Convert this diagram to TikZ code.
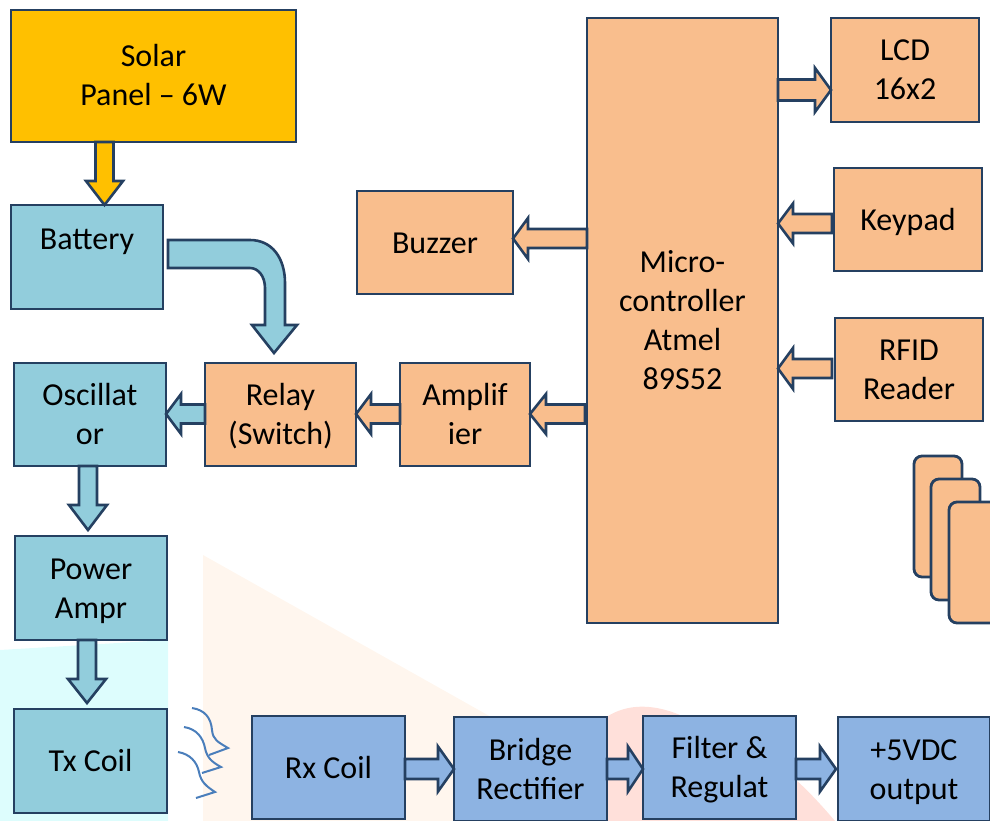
\documentclass[tikz,border=0pt]{standalone}
\usepackage{fontspec}
\setmainfont{Carlito}
\usetikzlibrary{calc}
\definecolor{orng}{HTML}{F9BE8D}
\definecolor{teal2}{HTML}{92CDDC}
\definecolor{blu}{HTML}{8DB3E2}
\definecolor{gold}{HTML}{FFC000}
\definecolor{edge}{HTML}{254061}
\definecolor{wave}{HTML}{4A7EBB}
\definecolor{wmcyan}{HTML}{DDFDFD}
\definecolor{wmorange}{HTML}{FFF6EE}
\definecolor{wmpink}{HTML}{FFE0DA}
\newcommand\st{\rule[-9pt]{0pt}{39pt}}
\tikzset{
  box/.style={draw=edge,line width=2.8pt,fill=#1,inner sep=0pt,outer sep=0pt,align=center,
    font=\fontsize{32}{39}\selectfont,text=black},
  card/.style={draw=edge,line width=2.8pt,fill=orng,rounded corners=8pt},
  blockarrow/.style={draw=edge,line width=2.6pt,fill=#1,line join=miter},
  wavy/.style={draw=wave,line width=2pt,line join=miter}
}
% from, to, half shaft, half head, head length, fill
\newcommand\blockarrow[6]{%
  \coordinate (ba) at (#1);\coordinate (bb) at (#2);
  \coordinate (bn) at ($(bb)!#5pt!(ba)$);
  \draw[blockarrow=#6]
    ($(ba)!#3pt!90:(bb)$) -- ($(bn)!#3pt!-90:(ba)$) -- ($(bn)!#4pt!-90:(ba)$) -- (bb)
    -- ($(bn)!#4pt!90:(ba)$) -- ($(bn)!#3pt!90:(ba)$) -- ($(ba)!#3pt!-90:(bb)$) -- cycle;}
\begin{document}
\begin{tikzpicture}[x=1pt,y=-1pt]
\useasboundingbox (0,0) rectangle (990,821);
\clip (0,0) rectangle (990,821);
% faint watermark behind the diagram
\fill[wmcyan] (0,650) -- (168,640) -- (168,821) -- (0,821) -- cycle;
\fill[wmorange] (203,555) -- (500,722) -- (640,821) -- (203,821) -- cycle;
\fill[wmpink] (560,821) .. controls (570,720) and (620,690) .. (680,715) .. controls (760,740) and (800,780) .. (835,821) -- cycle;
% boxes
\node[box=gold,minimum width=285pt,minimum height=132pt] (solar) at (153.5,76) {\st Solar\\\st Panel – 6W};
\node[box=teal2,minimum width=152pt,minimum height=104pt] (bat) at (87,257) {\st Battery\\[-3pt]\st~};
\node[box=teal2,minimum width=152pt,minimum height=103pt] (osc) at (90,414.5) {\st Oscillat\\\st or};
\node[box=orng,minimum width=151pt,minimum height=103pt] (relay) at (280.5,414.5) {\st Relay\\\st (Switch)};
\node[box=orng,minimum width=130pt,minimum height=103pt] (amp) at (465,414.5) {\st Amplif\\\st ier};
\node[box=orng,minimum width=191pt,minimum height=605pt] (micro) at (682.5,320.5) {\st Micro-\\\st controller\\\st Atmel\\\st 89S52};
\node[box=orng,minimum width=156pt,minimum height=103pt] (buzz) at (435,242.5) {\st Buzzer};
\node[box=orng,minimum width=148pt,minimum height=104pt] (lcd) at (905,70) {\st LCD\\\st 16x2};
\node[box=orng,minimum width=148pt,minimum height=103pt] (key) at (908,219.5) {\st Keypad};
\node[box=orng,minimum width=148pt,minimum height=103pt] (rfid) at (909,369.5) {\st RFID\\\st Reader};
\node[box=teal2,minimum width=152pt,minimum height=104pt] (pow) at (91,588) {\st Power\\\st Ampr};
\node[box=teal2,minimum width=153pt,minimum height=104pt] (tx) at (90.5,761) {\st Tx Coil};
\node[box=blu,minimum width=153pt,minimum height=103pt] (rx) at (328.5,767.5) {\st Rx Coil};
\node[box=blu,minimum width=153pt,minimum height=104pt] (bridge) at (530.5,769) {\st Bridge\\\st Rectifier};
\node[box=blu,minimum width=153pt,minimum height=103pt] (filt) at (719.5,767.5) {\st Filter \&\\\st Regulat};
\node[box=blu,minimum width=152pt,minimum height=104pt] (out) at (914,769) {\st +5VDC\\\st output};
% stacked cards
\draw[card] (914,456) rectangle (962,577);
\draw[card] (931,479) rectangle (980,600);
\draw[card] (949,502) rectangle (1010,623);
% straight block arrows
\blockarrow{solar.south -| 104.5,0}{bat.north -| 104.5,0}{9}{18.5}{24}{gold}
\coordinate (t1) at ($(pow.north -| 88,0)+(0,-6)$);
\blockarrow{osc.south -| 88,0}{t1}{9}{19}{25}{teal2}
\coordinate (t2) at ($(tx.north -| 87,0)+(0,-6)$);
\blockarrow{pow.south -| 87,0}{t2}{9}{19}{24}{teal2}
\blockarrow{relay.west |- 0,414}{osc.east |- 0,414}{9.5}{20}{15}{teal2}
\blockarrow{amp.west |- 0,414}{relay.east |- 0,414}{9.5}{20}{15}{orng}
\coordinate (s3) at ($(micro.west |- 0,414)+(-2,0)$);
\blockarrow{s3}{amp.east |- 0,414}{9.5}{20}{16}{orng}
\blockarrow{micro.west |- 0,238.5}{buzz.east |- 0,238.5}{9.5}{20.5}{15}{orng}
\blockarrow{micro.east |- 0,90}{lcd.west |- 0,90}{10.5}{22}{16}{orng}
\coordinate (s4) at ($(key.west |- 0,223.5)+(-2,0)$);
\blockarrow{s4}{micro.east |- 0,223.5}{9.5}{20}{15}{orng}
\coordinate (s5) at ($(rfid.west |- 0,368.5)+(-3,0)$);
\blockarrow{s5}{micro.east |- 0,368.5}{9.5}{20.5}{15}{orng}
\blockarrow{rx.east |- 0,769}{bridge.west |- 0,769}{10}{22.5}{16}{blu}
\blockarrow{bridge.east |- 0,769}{filt.west |- 0,769}{10}{22.5}{15}{blu}
\coordinate (t6) at ($(out.west |- 0,769)+(-2,0)$);
\blockarrow{filt.east |- 0,769}{t6}{10}{22.5}{16}{blu}
% bent arrow battery to relay
\coordinate (bs) at ($(bat.east)+(5,-3)$);
\coordinate (bt) at ($(relay.north -| 274,0)+(0,-10)$);
\draw[blockarrow=teal2]
  ($(bs)+(0,-14)$) -- ($(bs)+(82,-14)$)
  .. controls ($(bs)+(104,-14)$) and ($(bt)+(11,-95)$) .. ($(bt)+(11,-70)$)
  -- ($(bt)+(11,-28)$) -- ($(bt)+(23,-28)$) -- (bt) -- ($(bt)+(-22,-28)$) -- ($(bt)+(-9,-28)$)
  -- ($(bt)+(-9,-65)$) .. controls ($(bt)+(-9,-77)$) and ($(bs)+(90,14)$) .. ($(bs)+(82,14)$)
  -- ($(bs)+(0,14)$) -- cycle;
% wave arrows from Tx Coil to Rx Coil
\draw[wavy] (192,708) .. controls (205,710) and (211,718) .. (212,730) .. controls (213,740) and (218,742) .. (228,748) -- (209,755);
\draw[wavy] (184,727) .. controls (197,729) and (203,738) .. (205,748) .. controls (207,758) and (212,762) .. (221,767) -- (202,773);
\draw[wavy] (178,752) .. controls (190,754) and (197,762) .. (199,772) .. controls (201,782) and (206,786) .. (215,792) -- (196,798);
\end{tikzpicture}
\end{document}
